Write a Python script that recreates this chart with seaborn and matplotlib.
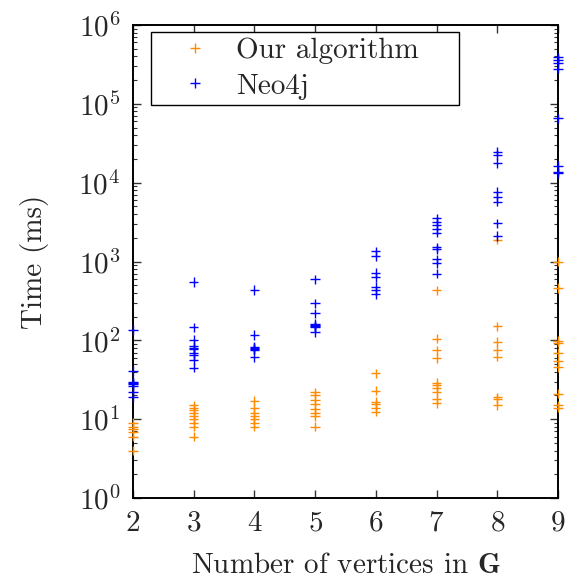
import matplotlib
matplotlib.use("Agg")
import matplotlib.pyplot as plt
from matplotlib.lines import Line2D
import seaborn as sns
import pandas as pd

# Graph sizes (number of vertices in the query graph)
sizes = [2, 3, 4, 5, 6, 7, 8, 9]

# Query times in milliseconds, one list per graph size
ours_ms = [
    [9, 8, 7.5, 6.8, 6, 4],
    [15, 14, 13, 12, 11, 10, 9, 8, 6],
    [17, 14, 12, 11, 10, 9, 8],
    [22, 20, 17.5, 15.5, 13.5, 12, 11, 8],
    [38, 23, 16.5, 15.5, 14, 12.5],
    [430, 105, 75, 60, 29, 27, 25, 22, 18, 16],
    [1900, 150, 96, 76, 62, 19, 18, 15],
    [1000, 460, 99, 93, 70, 54, 46, 21, 15, 14],
]
neo4j_ms = [
    [135, 41, 30, 29, 28, 26, 22, 19],
    [550, 147, 101, 86, 80, 77, 69, 65, 56, 45],
    [436, 117, 83, 80, 78, 76, 61],
    [596, 296, 221, 161, 155, 150, 147, 127],
    [1340, 1180, 720, 630, 480, 430, 385],
    [3540, 3200, 2910, 2590, 2330, 1520, 1430, 1070, 950, 700],
    [24800, 22500, 17700, 7700, 6660, 5760, 3060, 2110],
    [387000, 362000, 334000, 278000, 65800, 16300, 13800, 13200],
]
methods = ["Our algorithm", "Neo4j"]
colors = {"Our algorithm": "#ff8c00", "Neo4j": "#0000ff"}

rows = []
for method, table in zip(methods, [ours_ms, neo4j_ms]):
    for n, times in zip(sizes, table):
        for t in times:
            rows.append({"n": n, "ms": t, "method": method})
df = pd.DataFrame(rows)

sns.set_style("ticks")
FS = 21
plt.rcParams.update({
    "font.family": "serif",
    "font.serif": ["cmr10", "DejaVu Serif"],
    "mathtext.fontset": "cm",
    "axes.formatter.use_mathtext": True,
    "font.size": FS,
    "axes.linewidth": 1.4,
    "axes.edgecolor": "black",
})

fig = plt.figure(figsize=(5.7, 5.88), dpi=100)
ax = fig.add_axes([0.2333, 0.153, 0.7456, 0.8045])

sns.scatterplot(data=df, x="n", y="ms", hue="method", palette=colors,
                marker="+", s=45, linewidth=1.0, legend=False, ax=ax,
                clip_on=False, zorder=3)

ax.set_yscale("log")
ax.set_xlim(2, 9)
ax.set_ylim(1, 1e6)
ax.set_xticks(sizes)
ax.set_xlabel(r"Number of vertices in $\mathbf{G}$", fontsize=FS, labelpad=11)
ax.set_ylabel("Time (ms)", fontsize=FS, labelpad=21)

ax.tick_params(which="both", direction="in", top=True, right=True,
               labelsize=FS, color="#333333")
ax.tick_params(which="major", length=6, width=1.0, pad=9)
ax.tick_params(which="minor", length=3, width=0.8)
ax.tick_params(axis="x", which="minor", bottom=False, top=False)

handles = [Line2D([], [], marker="+", linestyle="none", color=colors[m],
                  markersize=7, markeredgewidth=1.0) for m in methods]
leg = ax.legend(handles, methods, loc="upper left",
                bbox_to_anchor=(0.043, 0.985, 0.724, 0.0), mode="expand",
                borderaxespad=0, fancybox=False, framealpha=1,
                edgecolor="black", fontsize=FS, handlelength=2.6,
                handletextpad=0.1, borderpad=0.2, labelspacing=0.3)
leg.get_frame().set_linewidth(1.0)

fig.savefig("out.png", dpi=100)
